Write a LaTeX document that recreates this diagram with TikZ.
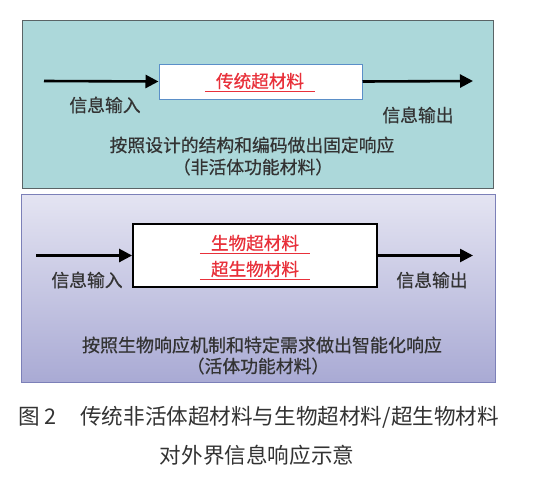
\documentclass[tikz,border=0pt]{standalone}
\usepackage{fontspec}
\newfontfamily\cjk[FakeBold=0.6]{Noto Sans CJK SC}
\newfontfamily\cjkcap{Noto Sans CJK SC}
\usetikzlibrary{arrows.meta}
\definecolor{tealfill}{HTML}{ACD8DA}
\definecolor{tealborder}{HTML}{5A6466}
\definecolor{lavtop}{HTML}{E4E4F2}
\definecolor{lavbot}{HTML}{A9AAD4}
\definecolor{lavborder}{HTML}{7C80B8}
\definecolor{redtxt}{HTML}{E8303A}
\definecolor{txt}{HTML}{333333}
\definecolor{bluebd}{HTML}{5B8FC8}
\tikzset{
  lbl/.style={font=\cjk\fontsize{17.8pt}{20pt}\selectfont, text=txt, inner sep=0pt},
  redlbl/.style={font=\cjk\fontsize{17.6pt}{20pt}\selectfont, text=redtxt, inner xsep=11pt, inner ysep=2pt},
  uline/.style={draw=redtxt, line width=1.2pt},
  captext/.style={font=\cjkcap\fontsize{21.6pt}{24pt}\selectfont, text=txt, inner sep=0pt},
  flow/.style={line width=2.6pt, -{Triangle[length=13pt,width=13pt]}},
}
\begin{document}
\begin{tikzpicture}[x=1pt,y=-1pt]
\useasboundingbox (0,0) rectangle (533,483);
\fill[white] (0,0) rectangle (533,483);
% top panel
\node[draw=tealborder, line width=1.4pt, fill=tealfill, minimum width=471pt, minimum height=168pt, anchor=north west, inner sep=0pt] (toppanel) at (22,20) {};
\node[draw=bluebd, line width=1pt, fill=white, minimum width=203pt, minimum height=35pt, inner sep=0pt] (tin) at (260.5,81.5) {};
\node[redlbl] (tr) at (260,81) {传统超材料};
\draw[uline] (tr.south west) -- (tr.south east);
\coordinate (tinL) at (44,81);
\coordinate (tinR) at (473,81);
\draw[flow] (tinL) -- (tin.west);
\draw[flow] (tin.east) -- (tinR);
\node[lbl] (t1) at (105,105) {信息输入};
\node[lbl] (t2) at (418,115) {信息输出};
\node[lbl] (t3) at (252,145) {按照设计的结构和编码做出固定响应};
\node[lbl] (t4) at (253,167) {（非活体功能材料）};
% bottom panel
\node[draw=lavborder, line width=1.4pt, top color=lavtop, bottom color=lavbot, minimum width=474pt, minimum height=188pt, anchor=north west, inner sep=0pt] (botpanel) at (21,194) {};
\node[draw=black, line width=1.8pt, fill=white, minimum width=244pt, minimum height=63pt, inner sep=0pt] (bin) at (255,255.5) {};
\node[redlbl] (b1) at (255,243) {生物超材料};
\draw[uline] (b1.south west) -- (b1.south east);
\node[redlbl] (b2) at (255,269) {超生物材料};
\draw[uline] (b2.south west) -- (b2.south east);
\coordinate (binL) at (36,255.5);
\coordinate (binR) at (473,255.5);
\draw[flow] (binL) -- (bin.west);
\draw[flow] (bin.east) -- (binR);
\node[lbl] (b3) at (87,280) {信息输入};
\node[lbl] (b4) at (432,280) {信息输出};
\node[lbl, font=\cjk\fontsize{18pt}{20pt}\selectfont] (b5) at (262,345) {按照生物响应机制和特定需求做出智能化响应};
\node[lbl] (b6) at (258,366) {（活体功能材料）};
% caption
\node[captext, anchor=west] (c0) at (18,417) {图 2};
\node[captext, anchor=west] (c1) at (80,417) {传统非活体超材料与生物超材料/超生物材料};
\node[captext] (c2) at (257,455) {对外界信息响应示意};
\end{tikzpicture}
\end{document}
